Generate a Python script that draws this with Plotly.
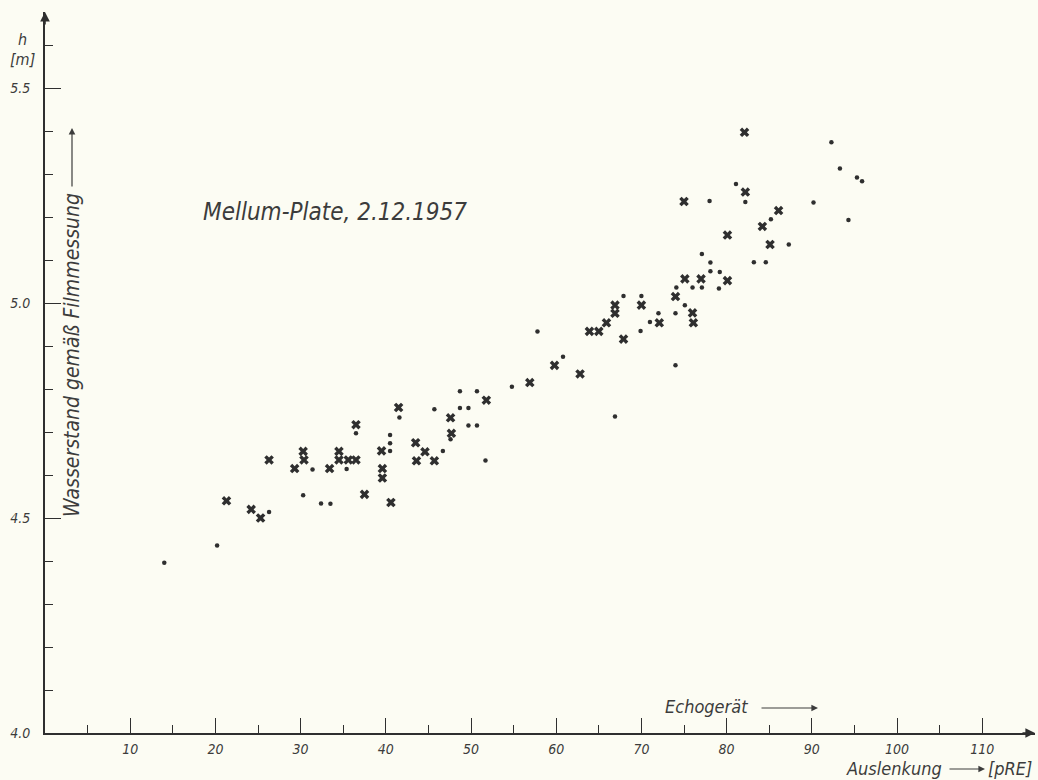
import plotly.graph_objects as go

# ---- data ----
cross_x = [21.3, 24.2, 25.3, 26.3, 29.3, 30.3, 30.4, 33.4, 34.5, 34.5, 35.6, 36.5, 36.5, 37.5,
           39.5, 39.6, 39.6, 40.6, 41.5, 43.5, 44.6, 43.6, 45.7, 47.6, 47.7, 51.8, 56.9, 59.8,
           62.8, 63.9, 65.0, 65.9, 66.9, 66.9, 67.9, 70.0, 72.1, 74.0, 76.0, 76.1, 75.1, 77.0,
           80.1, 80.1, 84.2, 85.1, 86.1, 82.2, 82.1, 75.0]
cross_y = [4.540, 4.520, 4.500, 4.635, 4.615, 4.655, 4.635, 4.615, 4.655, 4.635, 4.635, 4.635, 4.717, 4.555,
           4.656, 4.615, 4.593, 4.536, 4.757, 4.675, 4.654, 4.633, 4.633, 4.733, 4.697, 4.774, 4.815, 4.855,
           4.835, 4.934, 4.934, 4.954, 4.976, 4.995, 4.916, 4.995, 4.954, 5.015, 4.977, 4.954, 5.056, 5.056,
           5.052, 5.158, 5.178, 5.136, 5.215, 5.258, 5.397, 5.236]

dot_x = [14.0, 20.2, 26.3, 31.4, 30.3, 32.4, 33.5, 35.4, 36.5, 40.5, 40.5, 40.5, 41.6, 45.7,
         46.7, 47.6, 48.7, 50.7, 48.7, 49.7, 49.7, 50.7, 51.7, 54.8, 57.8, 60.8, 66.9, 67.9,
         70.0, 69.9, 71.0, 72.0, 74.0, 74.0, 74.1, 75.1, 76.0, 77.1, 79.1, 77.1, 78.1, 78.1,
         79.2, 83.2, 84.6, 85.2, 87.3, 78.0, 81.1, 82.2, 90.2, 92.3, 93.3, 95.3, 95.9, 94.3]
dot_y = [4.396, 4.436, 4.514, 4.613, 4.553, 4.534, 4.533, 4.614, 4.697, 4.693, 4.674, 4.656, 4.734, 4.753,
         4.656, 4.683, 4.795, 4.795, 4.756, 4.756, 4.715, 4.715, 4.634, 4.805, 4.934, 4.875, 4.736, 5.016,
         5.016, 4.935, 4.956, 4.976, 4.976, 4.855, 5.036, 4.995, 5.036, 5.036, 5.034, 5.114, 5.094, 5.074,
         5.072, 5.095, 5.095, 5.195, 5.136, 5.237, 5.277, 5.235, 5.234, 5.374, 5.313, 5.292, 5.283, 5.193]

x_ticks = [10, 20, 30, 40, 50, 60, 70, 80, 90, 100, 110]
x_tick_text = ["10", "20", "30", "40", "50", "60", "70", "80", "90", "100", "110"]
x_minor = [5, 15, 25, 35, 45, 55, 65, 75, 85, 95, 105]
y_ticks = [4.0, 4.5, 5.0, 5.5]
y_tick_text = ["4.0", "4.5", "5.0", "5.5"]

# ---- layout geometry ----
W, H = 1038, 780
L, R, T, B = 45, 3, 12, 47
PW, PH = W - L - R, H - T - B          # 990 x 721
X_MAX = PW / 8.52
Y_MIN, Y_MAX = 4.0, 4.0 + PH / 430.0

INK = "#2f2f2f"
TXT = "#3c3c3c"
BG = "#fcfcf3"
FONT = "DejaVu Sans Condensed, Liberation Sans Narrow, DejaVu Sans, sans-serif"


def paper(xp, yp):
    """page pixel -> paper coordinates"""
    return (xp - L) / PW, (T + PH - yp) / PH


fig = go.Figure()
fig.add_trace(go.Scatter(x=dot_x, y=dot_y, mode="markers",
                         marker=dict(symbol="circle", size=4.5, color=INK),
                         showlegend=False, hoverinfo="x+y"))
fig.add_trace(go.Scatter(x=cross_x, y=cross_y, mode="markers",
                         marker=dict(symbol="x", size=8.5, color=INK),
                         showlegend=False, hoverinfo="x+y"))

tickfont = dict(family=FONT, size=14, color=TXT, style="italic")

fig.update_xaxes(range=[0, X_MAX], showgrid=False, zeroline=False,
                 showline=True, linecolor=INK, linewidth=1.6,
                 ticks="inside", ticklen=15, tickwidth=1.4, tickcolor=INK,
                 tickvals=x_ticks, ticktext=x_tick_text, tickfont=tickfont,
                 ticklabelstandoff=2,
                 minor=dict(tickvals=x_minor, ticks="inside", ticklen=8,
                            tickwidth=1.2, tickcolor=INK))
fig.update_yaxes(range=[Y_MIN, Y_MAX], showgrid=False, zeroline=False,
                 showline=True, linecolor=INK, linewidth=1.6,
                 ticks="inside", ticklen=16, tickwidth=1.4, tickcolor=INK,
                 tickvals=y_ticks, ticktext=y_tick_text, tickfont=tickfont,
                 ticklabelstandoff=10,
                 minor=dict(dtick=0.1, tick0=4.0, ticks="inside", ticklen=8,
                            tickwidth=1.2, tickcolor=INK))

ann = []
# axis arrowheads
ann.append(dict(xref="paper", yref="paper", x=1.0, y=0.0, ax=-14, ay=0, text="",
                showarrow=True, arrowhead=2, arrowsize=1.2, arrowwidth=1.6, arrowcolor=INK))
ann.append(dict(xref="paper", yref="paper", x=0.0, y=1.0, ax=0, ay=14, text="",
                showarrow=True, arrowhead=2, arrowsize=1.2, arrowwidth=1.6, arrowcolor=INK))


def txt(text, xp, yp, size, angle=0, xanchor="center"):
    x, y = paper(xp, yp)
    ann.append(dict(xref="paper", yref="paper", x=x, y=y, text=text, showarrow=False,
                    xanchor=xanchor, yanchor="middle", textangle=angle,
                    font=dict(family=FONT, size=size, color=TXT, style="italic")))


def arrow(x_tail, y_tail, x_head, y_head):
    x, y = paper(x_head, y_head)
    ann.append(dict(xref="paper", yref="paper", x=x, y=y, text="",
                    ax=x_tail - x_head, ay=y_tail - y_head, showarrow=True,
                    arrowhead=2, arrowsize=1.1, arrowwidth=1.2, arrowcolor=TXT))


txt("h", 22, 40, 16)
txt("[m]", 22, 60, 16)
txt("Mellum-Plate, 2.12.1957", 335, 212, 24)
txt("Wasserstand gemäß Filmmessung", 72, 355, 21, angle=-90)
arrow(72, 188, 72, 128)
txt("Echogerät", 706, 706, 18)
arrow(760, 708, 818, 708)
txt("Auslenkung", 944, 768, 18, xanchor="right")
arrow(948, 769, 985, 769)
txt("[pRE]", 986, 768, 18, xanchor="left")

fig.update_layout(width=W, height=H, margin=dict(l=L, r=R, t=T, b=B),
                  paper_bgcolor=BG, plot_bgcolor=BG, annotations=ann,
                  font=dict(family=FONT, color=TXT))

fig.write_html("out.html", config={"displayModeBar": False},
               post_script="document.body.style.margin='0';"
                           "document.body.style.overflow='hidden';"
                           "document.body.style.background='" + BG + "';")
